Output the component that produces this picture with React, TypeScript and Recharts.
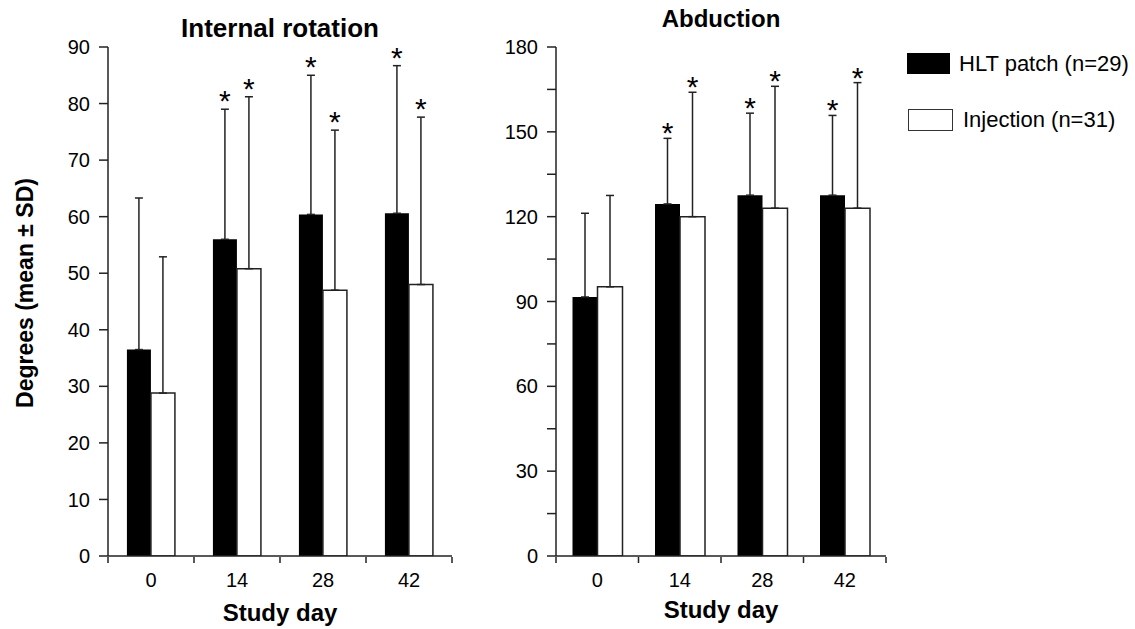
import React from "react";
import { BarChart, Bar, XAxis, YAxis, ErrorBar, LabelList } from "recharts";

const categories = ["0", "14", "28", "42"];
const boundaryTicks = [0, 1, 2, 3, 4];

// Internal rotation
const irHlt = [36.5, 56.0, 60.4, 60.6];
const irHltSd = [26.8, 23.0, 24.6, 26.1];
const irInj = [28.8, 50.8, 47.0, 48.0];
const irInjSd = [24.1, 30.4, 28.3, 29.6];
const irTicks = [0, 10, 20, 30, 40, 50, 60, 70, 80, 90];

// Abduction
const abHlt = [91.6, 124.5, 127.6, 127.6];
const abHltSd = [29.6, 23.2, 29.0, 28.2];
const abInj = [95.2, 120.0, 123.0, 123.0];
const abInjSd = [32.3, 44.0, 43.1, 44.4];
const abTicks = [0, 15, 30, 45, 60, 75, 90, 105, 120, 135, 150, 165, 180];

const hltSig = ["", "*", "*", "*"];
const injSig = ["", "*", "*", "*"];

const FONT = "'Liberation Sans', Arial, Helvetica, sans-serif";
const AXIS = "#222";

function starRenderer(means: number[], sds: number[], sig: string[], lift: number) {
  return (p: any) => {
    const i = p.index;
    if (!sig[i]) return null;
    const x = Number(p.x), y = Number(p.y), w = Number(p.width), h = Number(p.height);
    const base = y + h;
    const capY = base - ((means[i] + sds[i]) * h) / means[i];
    return (
      <text x={x + w / 2} y={capY - lift + 6} textAnchor="middle" fontSize={30} fontFamily={FONT} fill="#000">
        {sig[i]}
      </text>
    );
  };
}

type PanelProps = {
  width: number;
  height: number;
  margin: { top: number; right: number; bottom: number; left: number };
  hlt: number[];
  hltSd: number[];
  inj: number[];
  injSd: number[];
  yMax: number;
  ticks: number[];
  labelStep: number;
  gap: string;
  lift: number;
};

const EmptyTick = () => <g />;

function Panel(props: PanelProps) {
  const { width, height, margin, hlt, hltSd, inj, injSd, yMax, ticks, labelStep, gap, lift } = props;
  const data = categories.map((c, i) => ({
    day: c,
    idx: i,
    hlt: hlt[i],
    inj: inj[i],
    hltErr: [0, hltSd[i]],
    injErr: [0, injSd[i]],
  }));
  return (
    <BarChart width={width} height={height} data={data} margin={margin} barGap={0} barCategoryGap={gap}>
      <XAxis
        dataKey="day"
        tickLine={false}
        tickSize={0}
        tickMargin={17}
        axisLine={{ stroke: AXIS, strokeWidth: 1.5 }}
        tick={{ fontSize: 20, fontFamily: FONT, fill: "#000" }}
        height={1}
      />
      <XAxis
        xAxisId="bound"
        type="number"
        dataKey="idx"
        domain={[0, 4]}
        allowDataOverflow
        ticks={boundaryTicks}
        interval={0}
        tick={EmptyTick}
        tickLine={{ stroke: AXIS, strokeWidth: 1.5 }}
        tickSize={6}
        axisLine={false}
        height={40}
      />
      <YAxis
        domain={[0, yMax]}
        allowDataOverflow
        ticks={ticks}
        interval={0}
        tickFormatter={(v: number) => (v % labelStep === 0 ? String(v) : "")}
        tickSize={9}
        tickMargin={9}
        width={60}
        axisLine={{ stroke: AXIS, strokeWidth: 1.5 }}
        tickLine={{ stroke: AXIS, strokeWidth: 1.5 }}
        tick={{ fontSize: 20, fontFamily: FONT, fill: "#000" }}
      />
      <Bar dataKey="hlt" fill="#000" isAnimationActive={false}>
        <ErrorBar dataKey="hltErr" width={4} stroke="#222" strokeWidth={1.5} direction="y" />
        <LabelList dataKey="hlt" content={starRenderer(hlt, hltSd, hltSig, lift)} />
      </Bar>
      <Bar dataKey="inj" fill="#fff" stroke="#222" strokeWidth={1.5} isAnimationActive={false}>
        <ErrorBar dataKey="injErr" width={4} stroke="#222" strokeWidth={1.5} direction="y" />
        <LabelList dataKey="inj" content={starRenderer(inj, injSd, injSig, lift)} />
      </Bar>
    </BarChart>
  );
}

export default function App() {
  return (
    <div style={{ position: "absolute", left: 0, top: 0, width: 1135, height: 629, background: "#fff", fontFamily: FONT }}>
      <div style={{ position: "absolute", left: 0, top: 0 }}>
        <Panel
          width={470}
          height={629}
          margin={{ top: 47, right: 18, bottom: 32, left: 48 }}
          hlt={irHlt}
          hltSd={irHltSd}
          inj={irInj}
          injSd={irInjSd}
          yMax={90}
          ticks={irTicks}
          labelStep={10}
          gap="22%"
          lift={4}
        />
      </div>
      <div style={{ position: "absolute", left: 470, top: 0 }}>
        <Panel
          width={665}
          height={629}
          margin={{ top: 47, right: 249, bottom: 32, left: 26 }}
          hlt={abHlt}
          hltSd={abHltSd}
          inj={abInj}
          injSd={abInjSd}
          yMax={180}
          ticks={abTicks}
          labelStep={30}
          gap="20%"
          lift={1}
        />
      </div>
      <svg width={1135} height={629} style={{ position: "absolute", left: 0, top: 0, pointerEvents: "none" }}>
        <text x={280} y={37} textAnchor="middle" fontSize={26} fontWeight="bold" fontFamily={FONT}>Internal rotation</text>
        <text x={721} y={27} textAnchor="middle" fontSize={24} fontWeight="bold" fontFamily={FONT}>Abduction</text>
        <text x={280} y={621} textAnchor="middle" fontSize={24} fontWeight="bold" fontFamily={FONT}>Study day</text>
        <text x={721} y={618} textAnchor="middle" fontSize={24} fontWeight="bold" fontFamily={FONT}>Study day</text>
        <text
          x={25}
          y={293}
          textAnchor="middle"
          dominantBaseline="central"
          fontSize={23}
          fontWeight="bold"
          fontFamily={FONT}
          transform="rotate(-90 25 293)"
        >
          Degrees (mean ± SD)
        </text>
      </svg>
      <div style={{ position: "absolute", left: 907, top: 53, width: 43, height: 21, background: "#000" }} />
      <div style={{ position: "absolute", left: 959, top: 51, fontSize: 22, lineHeight: "26px", whiteSpace: "nowrap" }}>HLT patch (n=29)</div>
      <div style={{ position: "absolute", left: 908, top: 109, width: 43, height: 20, background: "#fff", border: "1.5px solid #333" }} />
      <div style={{ position: "absolute", left: 963, top: 107, fontSize: 22, lineHeight: "26px", whiteSpace: "nowrap" }}>Injection (n=31)</div>
    </div>
  );
}
